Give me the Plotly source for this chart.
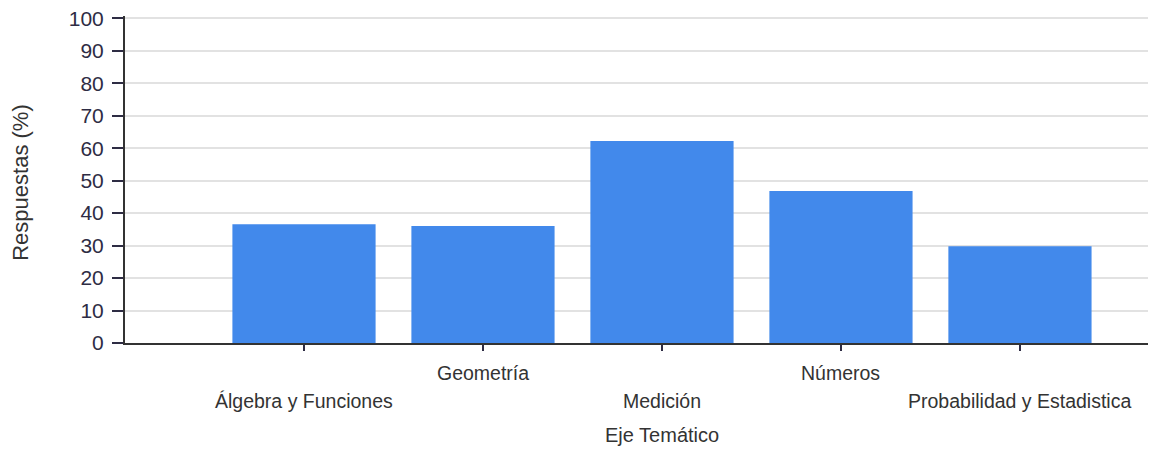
import plotly.graph_objects as go

categories = ["Álgebra y Funciones", "Geometría", "Medición", "Números", "Probabilidad y Estadistica"]
values = [36.6, 36.0, 62.2, 46.8, 29.8]
label_row = [1, 0, 1, 0, 1]  # 0 = upper row, 1 = lower row
y_ticks = list(range(0, 101, 10))

bar_color = "#4289eb"
text_color = "#333333"
tick_color = "#2e2c44"
font_family = "Liberation Sans, Arial, sans-serif"

# page body has an 8px default margin, so the figure is 8px smaller
fig_w, fig_h = 1148, 441
m_l, m_t = 117, 8
plot_w = fig_w - m_l
plot_h = 327

fig = go.Figure()
fig.add_trace(go.Bar(
    x=list(range(len(categories))),
    y=values,
    marker=dict(color=bar_color, line=dict(width=0)),
    width=0.8,
    hoverinfo="x+y",
))

annotations = []
for i, (cat, row) in enumerate(zip(categories, label_row)):
    annotations.append(dict(
        x=i, xref="x", y=0, yref="paper",
        text=cat, showarrow=False,
        xanchor="center", yanchor="middle",
        yshift=-30 - 28 * row,
        font=dict(family=font_family, size=19.5, color=text_color),
    ))
annotations.append(dict(
    x=(662 - 125) / plot_w, xref="paper", y=0, yref="paper",
    text="Eje Temático", showarrow=False,
    xanchor="center", yanchor="middle", yshift=-92,
    font=dict(family=font_family, size=20, color=text_color),
))
annotations.append(dict(
    x=(21 - 125) / plot_w, xref="paper", y=0.49, yref="paper",
    text="Respuestas (%)", showarrow=False, textangle=-90,
    xanchor="center", yanchor="middle",
    font=dict(family=font_family, size=22, color=text_color),
))

fig.update_layout(
    width=fig_w, height=fig_h,
    margin=dict(l=m_l, r=0, t=m_t, b=fig_h - m_t - plot_h),
    paper_bgcolor="white", plot_bgcolor="white",
    showlegend=False,
    annotations=annotations,
    xaxis=dict(
        range=[-1, 4.76],
        tickmode="array", tickvals=list(range(len(categories))),
        ticktext=[""] * len(categories),
        ticks="outside", ticklen=6, tickwidth=2, tickcolor=tick_color,
        showline=True, linecolor="#333333", linewidth=2,
        showgrid=False, zeroline=False,
        fixedrange=True,
    ),
    yaxis=dict(
        range=[0, 100.7],
        tickmode="array", tickvals=y_ticks,
        ticks="outside", ticklen=11, tickwidth=2, tickcolor=tick_color,
        ticklabelstandoff=4,
        ticklabeloverflow="allow",
        tickfont=dict(family=font_family, size=21, color=tick_color),
        showline=True, linecolor="#333333", linewidth=2,
        showgrid=True, gridcolor="#e2e2e2", gridwidth=2,
        zeroline=False,
        fixedrange=True,
    ),
    bargap=0.2,
)

fig.write_html("out.html")
